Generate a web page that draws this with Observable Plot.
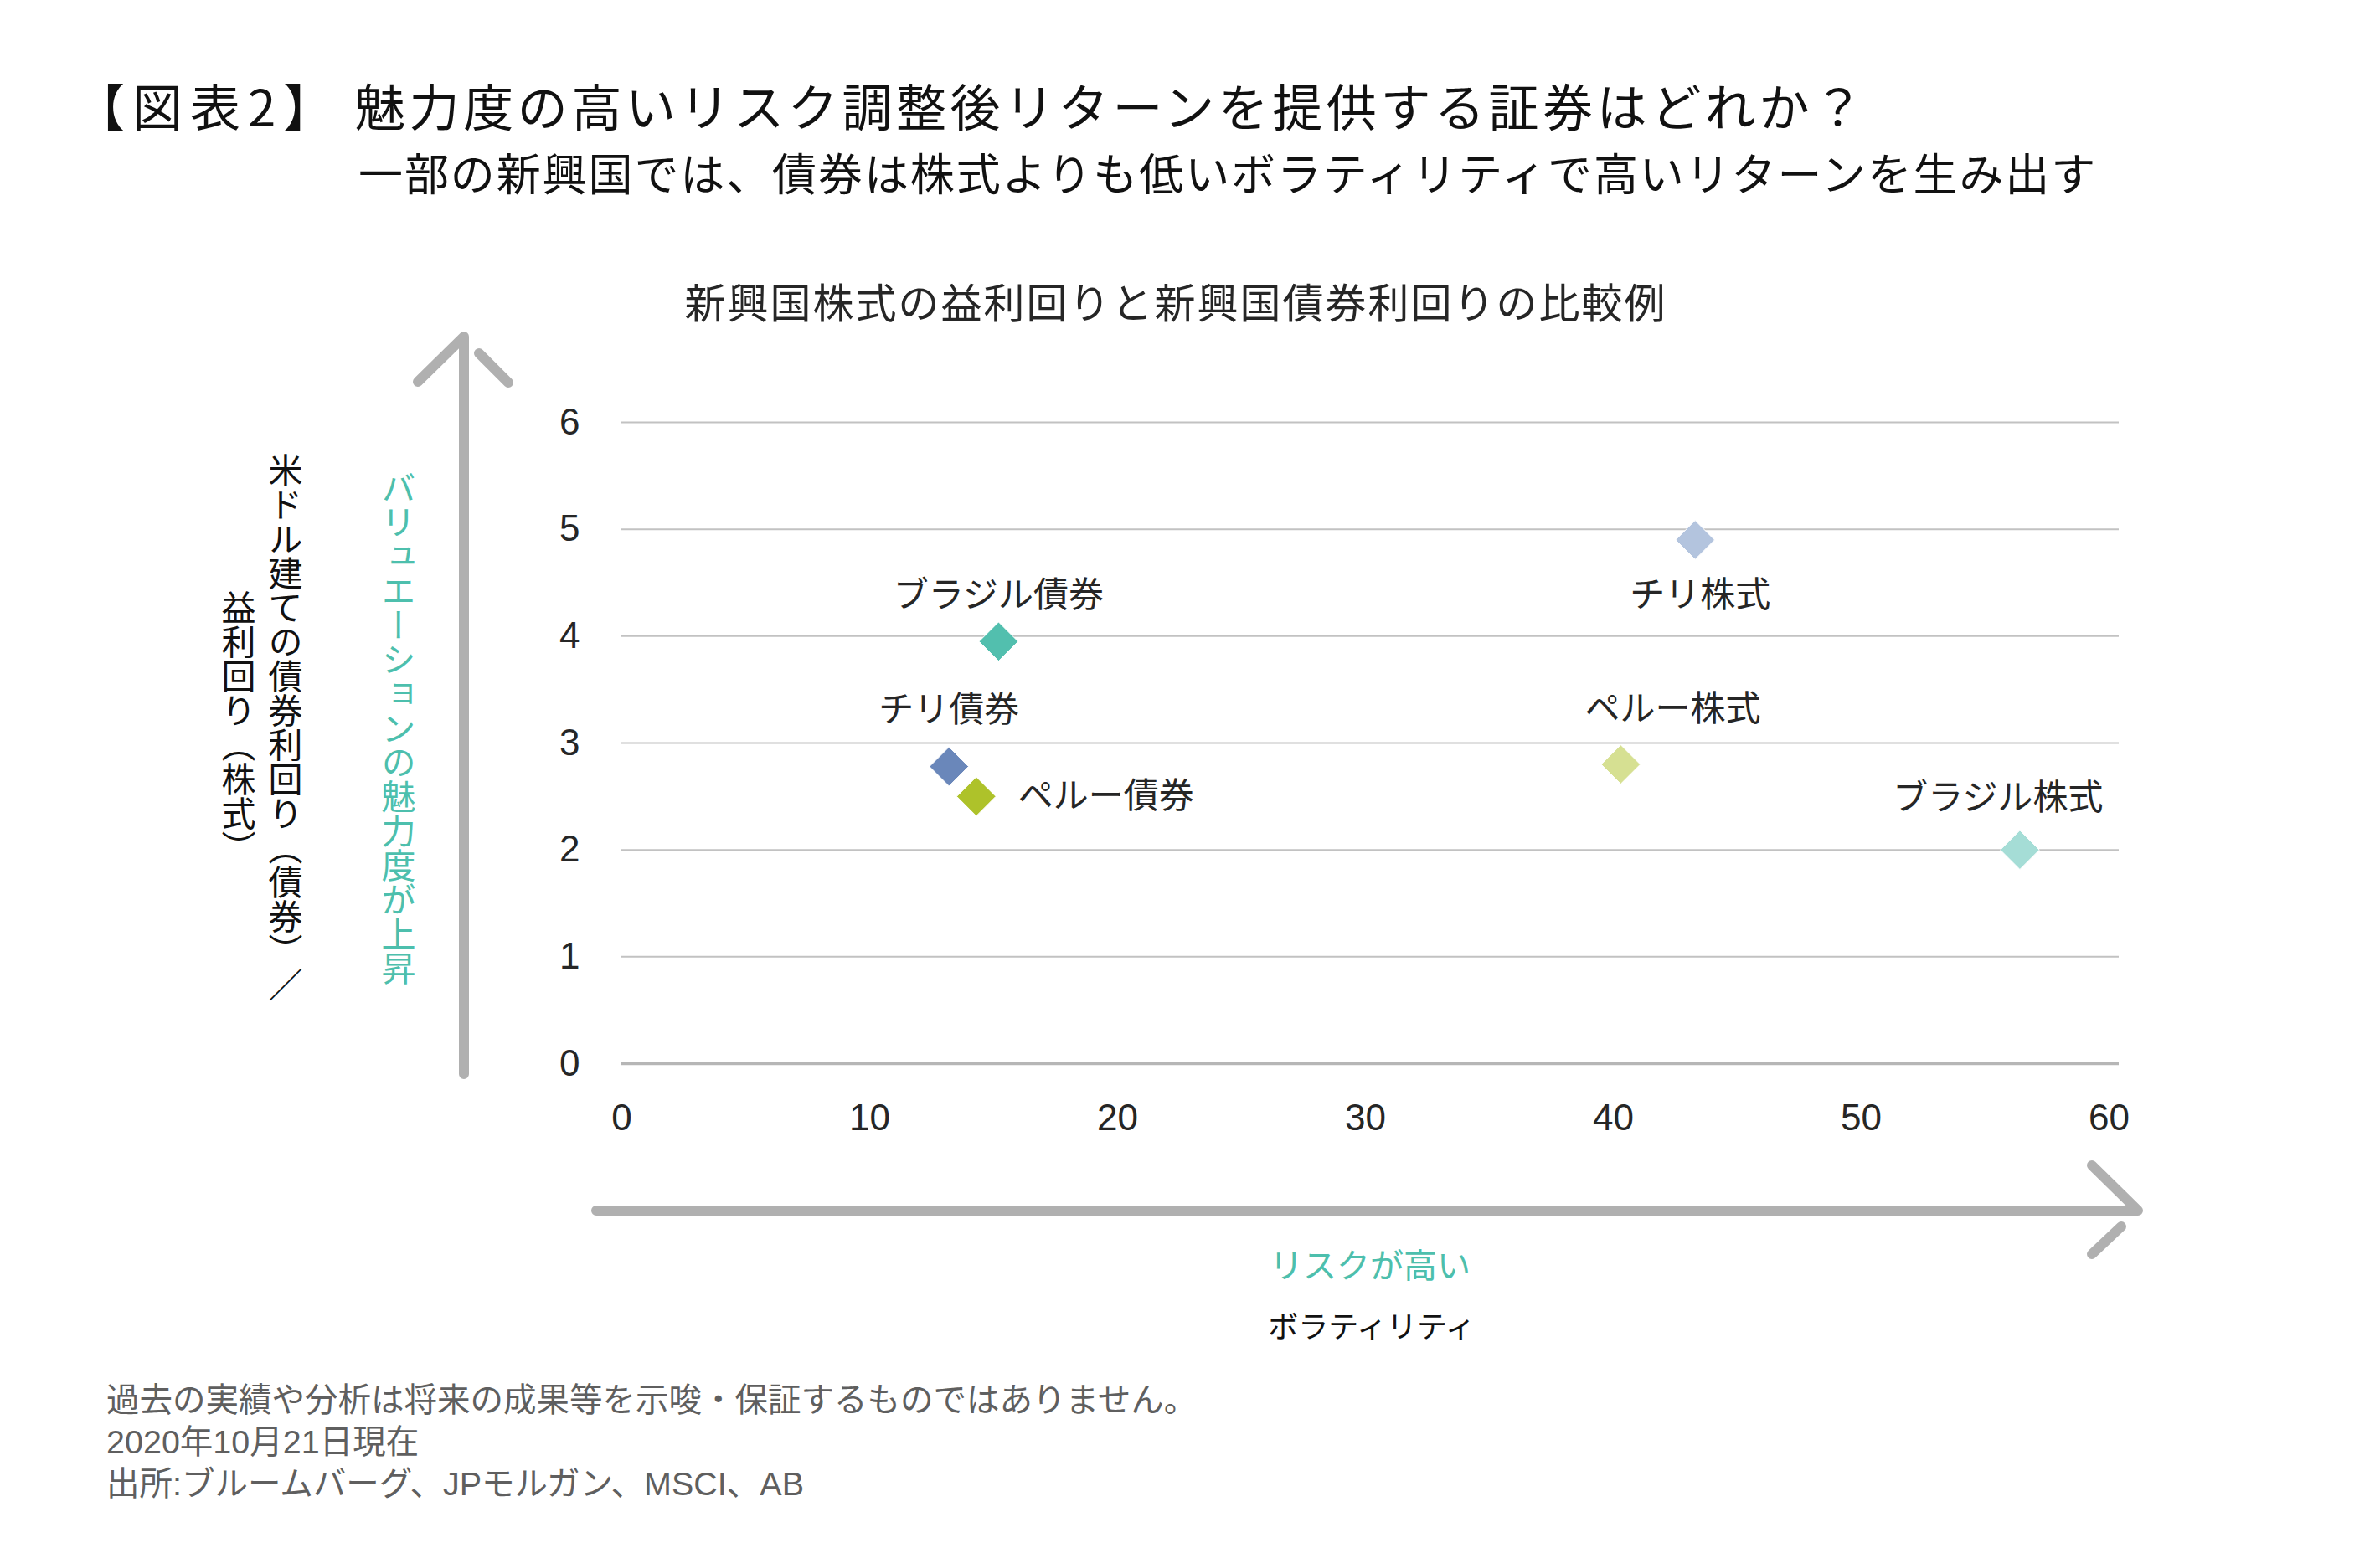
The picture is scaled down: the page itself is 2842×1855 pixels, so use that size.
<!DOCTYPE html>
<html lang="ja">
<head>
<meta charset="utf-8">
<script src="https://cdn.jsdelivr.net/npm/d3@7"></script>
<script src="https://cdn.jsdelivr.net/npm/@observablehq/plot@0.6"></script>
<style>
  html, body { margin: 0; padding: 0; background: #ffffff; }
  #page { position: relative; width: 2842px; height: 1855px; overflow: hidden; background: #fff;
          font-family: "Noto Sans CJK JP", "Liberation Sans", sans-serif; color: #222; }
  .abs { position: absolute; white-space: nowrap; }
  .vert { writing-mode: vertical-rl; text-orientation: mixed; text-align: center; }
  #chart { position: absolute; left: 0; top: 0; }
  #deco { position: absolute; left: 0; top: 0; pointer-events: none; }
</style>
</head>
<body>
<div id="page">
  <div id="chart"></div>
  <svg id="deco" width="2842" height="1855"></svg>

  <div class="abs" id="fig" style="left:89px; top:93px; font-size:60px; line-height:64px; letter-spacing:9px; color:#111;">【図表2】</div>
  <div class="abs" id="title" style="left:424px; top:93px; font-size:60px; line-height:64px; letter-spacing:4.6px; color:#111;">魅力度の高いリスク調整後リターンを提供する証券はどれか？</div>
  <div class="abs" id="subtitle" style="left:428px; top:177px; font-size:53px; line-height:56px; letter-spacing:1.9px; color:#111;">一部の新興国では、債券は株式よりも低いボラティリティで高いリターンを生み出す</div>
  <div class="abs" id="ctitle" style="left:1404px; top:333px; transform:translateX(-50%); font-size:49px; line-height:52px; letter-spacing:2px; color:#262626;">新興国株式の益利回りと新興国債券利回りの比較例</div>

  <div class="abs vert" style="left:313px; top:541px; width:56px; height:660px; font-size:41px; line-height:56px; color:#111; text-align:start;">米ドル建ての債券利回り（債券）／</div>
  <div class="abs vert" style="left:257px; top:541px; width:56px; height:656px; font-size:41px; line-height:56px; color:#111;">益利回り（株式）</div>
  <div class="abs vert" style="left:448px; top:562px; width:56px; height:620px; font-size:41px; line-height:56px; color:#4dbfad; text-align:start;">バリュエーションの魅力度が上昇</div>

  <div class="abs" style="left:1636px; top:1486px; transform:translateX(-50%); font-size:40px; line-height:46px; color:#4dbfad;">リスクが高い</div>
  <div class="abs" style="left:1638px; top:1560px; transform:translateX(-50%); font-size:36px; line-height:44px; color:#111;">ボラティリティ</div>

  <div class="abs" style="left:127px; top:1647px; font-family:'Liberation Sans','Noto Sans CJK JP',sans-serif; font-size:39.5px; line-height:50px; color:#5f5f5f;">過去の実績や分析は将来の成果等を示唆・保証するものではありません。<br>2020年10月21日現在<br>出所:ブルームバーグ、JPモルガン、MSCI、AB</div>
</div>

<script>
// ---- data ----
const names = ["ブラジル債券", "チリ債券", "ペルー債券", "チリ株式", "ペルー株式", "ブラジル株式"];
const volatility = [15.2, 13.2, 14.3, 43.3, 40.3, 56.4];   // x: ボラティリティ
const yields = [3.95, 2.78, 2.5, 4.9, 2.8, 2.0];            // y: 利回り
const xTicks = [0, 10, 20, 30, 40, 50, 60];
const yTicks = [0, 1, 2, 3, 4, 5, 6];

// ---- styles ----
const markerColors = ["#52bfae", "#6a87ba", "#aec22a", "#b3c4de", "#d6e092", "#a5ddd6"];
const labelPlacement = {
  "ブラジル債券": {dx: 0, dy: -55, anchor: "middle"},
  "チリ債券": {dx: 0, dy: -67, anchor: "middle"},
  "ペルー債券": {dx: 50, dy: 0, anchor: "start"},
  "チリ株式": {dx: 6, dy: 67, anchor: "middle"},
  "ペルー株式": {dx: 62, dy: -65, anchor: "middle"},
  "ブラジル株式": {dx: -26, dy: -62, anchor: "middle"}
};

const data = names.map((n, i) => ({name: n, vol: volatility[i], yld: yields[i]}));

const labelMarks = data.map(d => {
  const p = labelPlacement[d.name];
  return Plot.text([d], {
    x: "vol", y: "yld", text: "name",
    dx: p.dx, dy: p.dy, textAnchor: p.anchor,
    fontSize: 42, fill: "#262626",
    fontFamily: "'Noto Sans CJK JP', sans-serif"
  });
});

const chart = Plot.plot({
  width: 2842,
  height: 1855,
  marginLeft: 742,
  marginRight: 312,
  marginTop: 504,
  marginBottom: 585,
  style: {fontFamily: "'Liberation Sans', Arial, sans-serif", fontSize: "44px", color: "#262626", background: "transparent"},
  x: {domain: [0, 60], insetRight: 12},
  y: {domain: [0, 6]},
  color: {domain: names, range: markerColors},
  marks: [
    Plot.ruleY(yTicks.filter(t => t > 0), {stroke: "#c2c2c2", strokeWidth: 2}),
    Plot.ruleY([0], {stroke: "#b6b6b6", strokeWidth: 3.5}),
    Plot.axisX({ticks: xTicks, tickSize: 0, tickPadding: 48, label: null, fontSize: 44, tickFormat: d => String(d)}),
    Plot.axisY({ticks: yTicks, tickSize: 0, tickPadding: 50, label: null, fontSize: 44, tickFormat: d => String(d)}),
    Plot.dot(data, {x: "vol", y: "yld", fill: "name", symbol: "diamond2", r: 21, stroke: "white", strokeWidth: 1}),
    ...labelMarks
  ]
});
document.getElementById("chart").appendChild(chart);

// ---- decorative axis arrows ----
const deco = d3.select("#deco");
const arrowStyle = s => s.attr("stroke", "#b0b0b0").attr("stroke-width", 12).attr("stroke-linecap", "round").attr("stroke-linejoin", "round").attr("fill", "none");
// vertical arrow
deco.append("path").attr("d", "M554,1283 L554,402 L499,456").call(arrowStyle);
deco.append("path").attr("d", "M572,422 L607,457").call(arrowStyle);
// horizontal arrow
deco.append("path").attr("d", "M712,1446 L2553,1446 L2498,1392").call(arrowStyle);
deco.append("path").attr("d", "M2533,1465 L2498,1498").call(arrowStyle);
</script>
</body>
</html>
